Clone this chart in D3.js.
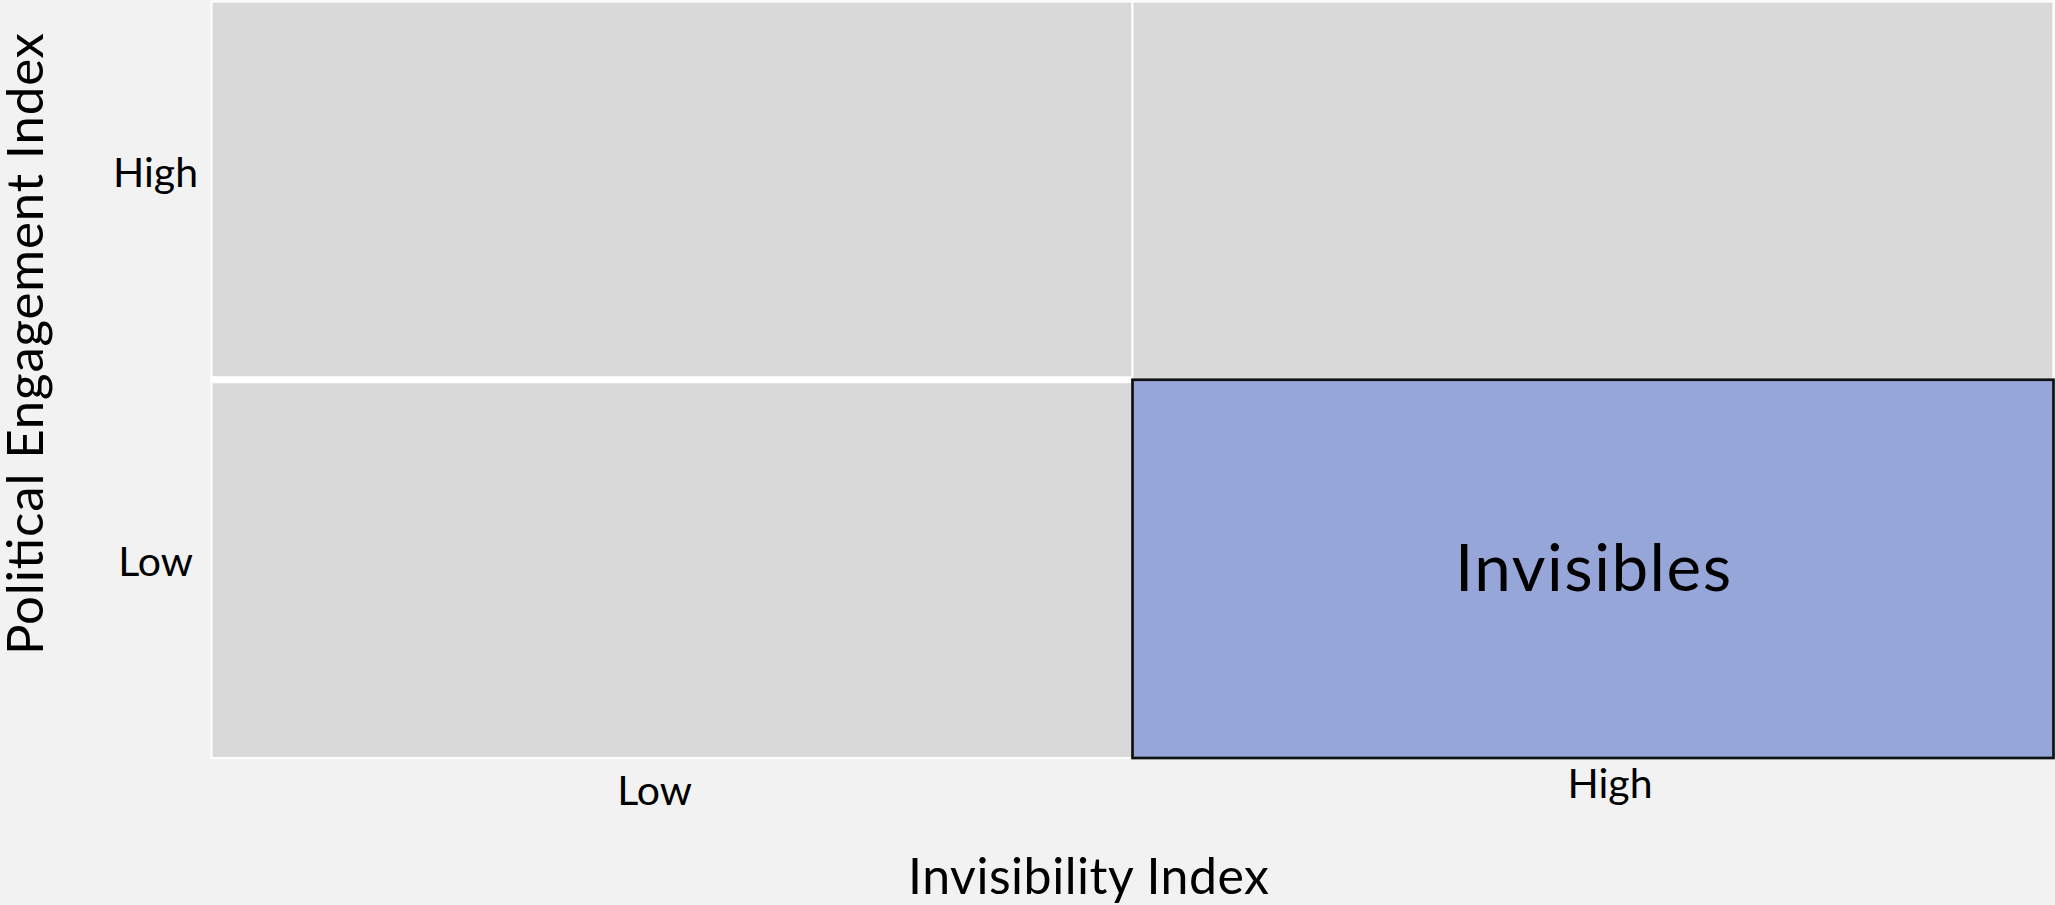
<!DOCTYPE html>
<html>
<head>
<meta charset="utf-8">
<script src="https://cdn.jsdelivr.net/npm/d3@7"></script>
<style>
  html, body { margin: 0; padding: 0; background: #f2f2f2; }
  svg { display: block; font-family: Lato, "Noto Sans", sans-serif; }
</style>
</head>
<body>
<svg id="chart" width="2055" height="905"></svg>
<script>
// ---- data ----
const xCategories = ["Low", "High"];          // Invisibility Index
const yCategories = ["High", "Low"];          // Political Engagement Index
const quadrantX = ["Low", "High", "Low", "High"];
const quadrantY = ["High", "High", "Low", "Low"];
const quadrantLabel = ["", "", "", "Invisibles"];
const quadrantHighlight = [false, false, false, true];
const xTitle = "Invisibility Index";
const yTitle = "Political Engagement Index";

// ---- layout ----
const W = 2055, H = 905;
const plot = { left: 211.5, right: 2053.5, top: 1.5, bottom: 758 };
const svg = d3.select("#chart");
svg.append("rect").attr("width", W).attr("height", H).attr("fill", "#f2f2f2");

const x = d3.scaleBand().domain(xCategories).range([plot.left, plot.right]).padding(0);
const y = d3.scaleBand().domain(yCategories).range([plot.top, plot.bottom]).padding(0);

const quads = quadrantX.map((qx, i) => ({
  x: qx, y: quadrantY[i], label: quadrantLabel[i], hi: quadrantHighlight[i]
}));

// grey cells
svg.append("g").selectAll("rect")
  .data(quads.filter(d => !d.hi))
  .join("rect")
  .attr("x", d => x(d.x)).attr("y", d => y(d.y))
  .attr("width", x.bandwidth()).attr("height", y.bandwidth())
  .attr("fill", "#d9d9d9").attr("stroke", "#ffffff").attr("stroke-width", 2);

// white separator between left-hand rows
svg.append("line")
  .attr("x1", x("Low")).attr("x2", x("Low") + x.bandwidth())
  .attr("y1", y("Low")).attr("y2", y("Low"))
  .attr("stroke", "#ffffff").attr("stroke-width", 7);

// highlighted cell
const hiG = svg.append("g").selectAll("g")
  .data(quads.filter(d => d.hi))
  .join("g");
hiG.append("rect")
  .attr("x", d => x(d.x)).attr("y", d => y(d.y))
  .attr("width", x.bandwidth()).attr("height", y.bandwidth())
  .attr("fill", "#97a6d8").attr("stroke", "#111111").attr("stroke-width", 2.7);
hiG.append("text")
  .attr("x", d => x(d.x) + x.bandwidth() / 2)
  .attr("y", d => y(d.y) + y.bandwidth() / 2 + 22.5)
  .attr("text-anchor", "middle")
  .attr("font-size", 65.5)
  .attr("fill", "#000")
  .attr("textLength", 276).attr("lengthAdjust", "spacing")
  .text(d => d.label);

// ---- axes ----
const xNudge = { Low: { dx: -17.5, base: 47 }, High: { dx: 17, base: 39.7 } };
const xAxisG = svg.append("g")
  .attr("transform", `translate(0,${plot.bottom})`)
  .call(d3.axisBottom(x).tickSize(0).tickPadding(0));
xAxisG.select(".domain").remove();
xAxisG.selectAll("text")
  .attr("font-family", "Lato, 'Noto Sans', sans-serif")
  .attr("font-size", 41)
  .attr("fill", "#000")
  .attr("dy", null)
  .attr("x", d => xNudge[d].dx)
  .attr("y", d => xNudge[d].base);

const yNudge = { High: -3.6, Low: 7 };
const yAxisG = svg.append("g")
  .attr("transform", `translate(${plot.left},0)`)
  .call(d3.axisLeft(y).tickSize(0).tickPadding(0));
yAxisG.select(".domain").remove();
yAxisG.selectAll("text")
  .attr("font-family", "Lato, 'Noto Sans', sans-serif")
  .attr("font-size", 41)
  .attr("fill", "#000")
  .attr("text-anchor", "middle")
  .attr("dy", null)
  .attr("x", -56)
  .attr("y", d => yNudge[d]);

// ---- titles ----
svg.append("text")
  .attr("x", 1088.5).attr("y", 894)
  .attr("text-anchor", "middle")
  .attr("font-size", 50)
  .attr("fill", "#000")
  .attr("textLength", 361).attr("lengthAdjust", "spacing")
  .text(xTitle);

svg.append("text")
  .attr("transform", `translate(43.3,${(655 + 33) / 2}) rotate(-90)`)
  .attr("text-anchor", "middle")
  .attr("font-size", 51)
  .attr("fill", "#000")
  .attr("textLength", 622).attr("lengthAdjust", "spacing")
  .text(yTitle);
</script>
</body>
</html>
